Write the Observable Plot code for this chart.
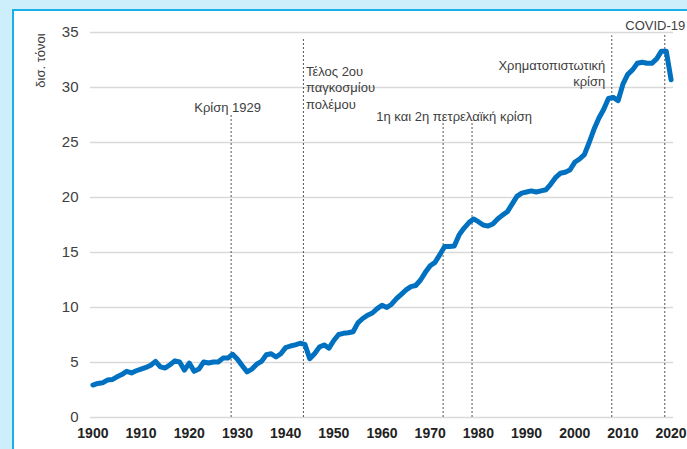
<!DOCTYPE html>
<html>
<head>
<meta charset="utf-8">
<script src="https://cdn.jsdelivr.net/npm/d3@7"></script>
<script src="https://cdn.jsdelivr.net/npm/@observablehq/plot@0.6"></script>
<style>
  html, body { margin: 0; padding: 0; }
  body { width: 687px; height: 449px; overflow: hidden; background: #cdeffc; position: relative; font-family: "Liberation Sans", Arial, sans-serif; }
  #panel { position: absolute; left: 12px; top: 9px; width: 720px; height: 480px; background: #ffffff; border: 2px solid #16b0ea; }
  #chart { position: absolute; left: 0; top: 0; }
</style>
</head>
<body>
<div id="panel"></div>
<div id="chart"></div>
<script>
// Categories: years 1900..2020
const years = d3.range(1900, 2021);
// Global CO2 emissions, billion tonnes
const emissions = [
  2.95, 3.10, 3.15, 3.40, 3.45, 3.70, 3.90, 4.20, 4.05, 4.25,
  4.40, 4.55, 4.75, 5.10, 4.60, 4.50, 4.80, 5.15, 5.05, 4.30,
  4.95, 4.20, 4.40, 5.05, 4.95, 5.05, 5.05, 5.40, 5.40, 5.75,
  5.30, 4.70, 4.15, 4.40, 4.85, 5.10, 5.70, 5.80, 5.50, 5.80,
  6.35, 6.50, 6.60, 6.75, 6.65, 5.35, 5.80, 6.40, 6.60, 6.30,
  7.00, 7.55, 7.65, 7.70, 7.80, 8.60, 9.00, 9.30, 9.50, 9.90,
  10.20, 10.00, 10.30, 10.80, 11.20, 11.60, 11.90, 12.00, 12.50, 13.20,
  13.80, 14.10, 14.80, 15.55, 15.55, 15.60, 16.60, 17.20, 17.70, 18.05,
  17.80, 17.50, 17.40, 17.60, 18.05, 18.40, 18.70, 19.40, 20.10, 20.40,
  20.50, 20.60, 20.50, 20.60, 20.70, 21.20, 21.80, 22.20, 22.30, 22.50,
  23.20, 23.50, 23.90, 25.00, 26.20, 27.20, 28.00, 29.00, 29.10, 28.80,
  30.30, 31.20, 31.60, 32.20, 32.30, 32.20, 32.20, 32.60, 33.30, 33.30,
  30.70
];
const yTicks = [0, 5, 10, 15, 20, 25, 30, 35];
const xTicks = [1900, 1910, 1920, 1930, 1940, 1950, 1960, 1970, 1980, 1990, 2000, 2010, 2020];
const yLabel = "δισ. τόνοι";

// Events (vertical dashed markers)
const eventYears = [1929, 1944, 1973, 1979, 2008, 2019];
const eventTops  = [27.6, 34.5, 27.0, 27.0, 34.7, 34.9];
const eventLabels = {
  crisis1929: "Κρίση 1929",
  ww2: "Τέλος 2ου\nπαγκοσμίου\nπολέμου",
  oil: "1η και 2η πετρελαϊκή κρίση",
  financial: "Χρηματοπιστωτική\nκρίση",
  covid: "COVID-19"
};

const series = years.map((y, i) => ({year: y, value: emissions[i]}));
const events = eventYears.map((y, i) => ({year: y, top: eventTops[i]}));

const textColor = "#404040";
const annoFont = 13;

const chart = Plot.plot({
  width: 687,
  height: 449,
  marginLeft: 90,
  marginRight: 14,
  marginTop: 32,
  marginBottom: 32,
  style: {background: "transparent", fontFamily: "'Liberation Sans', Arial, sans-serif", overflow: "visible"},
  x: {domain: [1899.5, 2020.5]},
  y: {domain: [0, 35]},
  marks: [
    Plot.ruleY(yTicks, {stroke: "#d9d9d9", strokeWidth: 1.5}),
    Plot.axisY({ticks: yTicks, tickSize: 0, tickPadding: 12, label: null, fontSize: 15, fill: textColor}),
    Plot.axisX({ticks: xTicks, tickSize: 0, tickPadding: 11, label: null, fontSize: 14, fontWeight: "bold", fill: "#222222", tickFormat: d => String(d)}),
    Plot.ruleX(events, {x: "year", y1: 0, y2: "top", dx: -1.5, stroke: "#555555", strokeWidth: 1, strokeDasharray: "2,2"}),
    Plot.line(series, {x: "year", y: "value", stroke: "#0070c0", strokeWidth: 5, strokeLinejoin: "round", strokeLinecap: "round"}),
    Plot.text([yLabel], {frameAnchor: "top-left", dx: -55, dy: 28, rotate: -90, fontSize: 13, fill: textColor, textAnchor: "middle"}),
    Plot.text([eventLabels.crisis1929], {x: eventYears[0], frameAnchor: "top", dy: 70, dx: -5, fontSize: annoFont, fill: textColor, textAnchor: "middle"}),
    Plot.text([eventLabels.ww2], {x: eventYears[1], frameAnchor: "top", dy: 31.5, dx: 1, fontSize: annoFont, fill: textColor, textAnchor: "start", lineHeight: 1.27}),
    Plot.text([eventLabels.oil], {x: (eventYears[2] + eventYears[3]) / 2, frameAnchor: "top", dy: 79, dx: -5, fontSize: annoFont, fill: textColor, textAnchor: "middle"}),
    Plot.text([eventLabels.financial], {x: eventYears[4], frameAnchor: "top", dy: 26, dx: -8, fontSize: annoFont, fill: textColor, textAnchor: "end", lineHeight: 1.25}),
    Plot.text([eventLabels.covid], {x: eventYears[5], frameAnchor: "top", dy: -12, dx: 19, fontSize: annoFont, fill: textColor, textAnchor: "end"})
  ]
});
document.getElementById("chart").appendChild(chart);
</script>
</body>
</html>
